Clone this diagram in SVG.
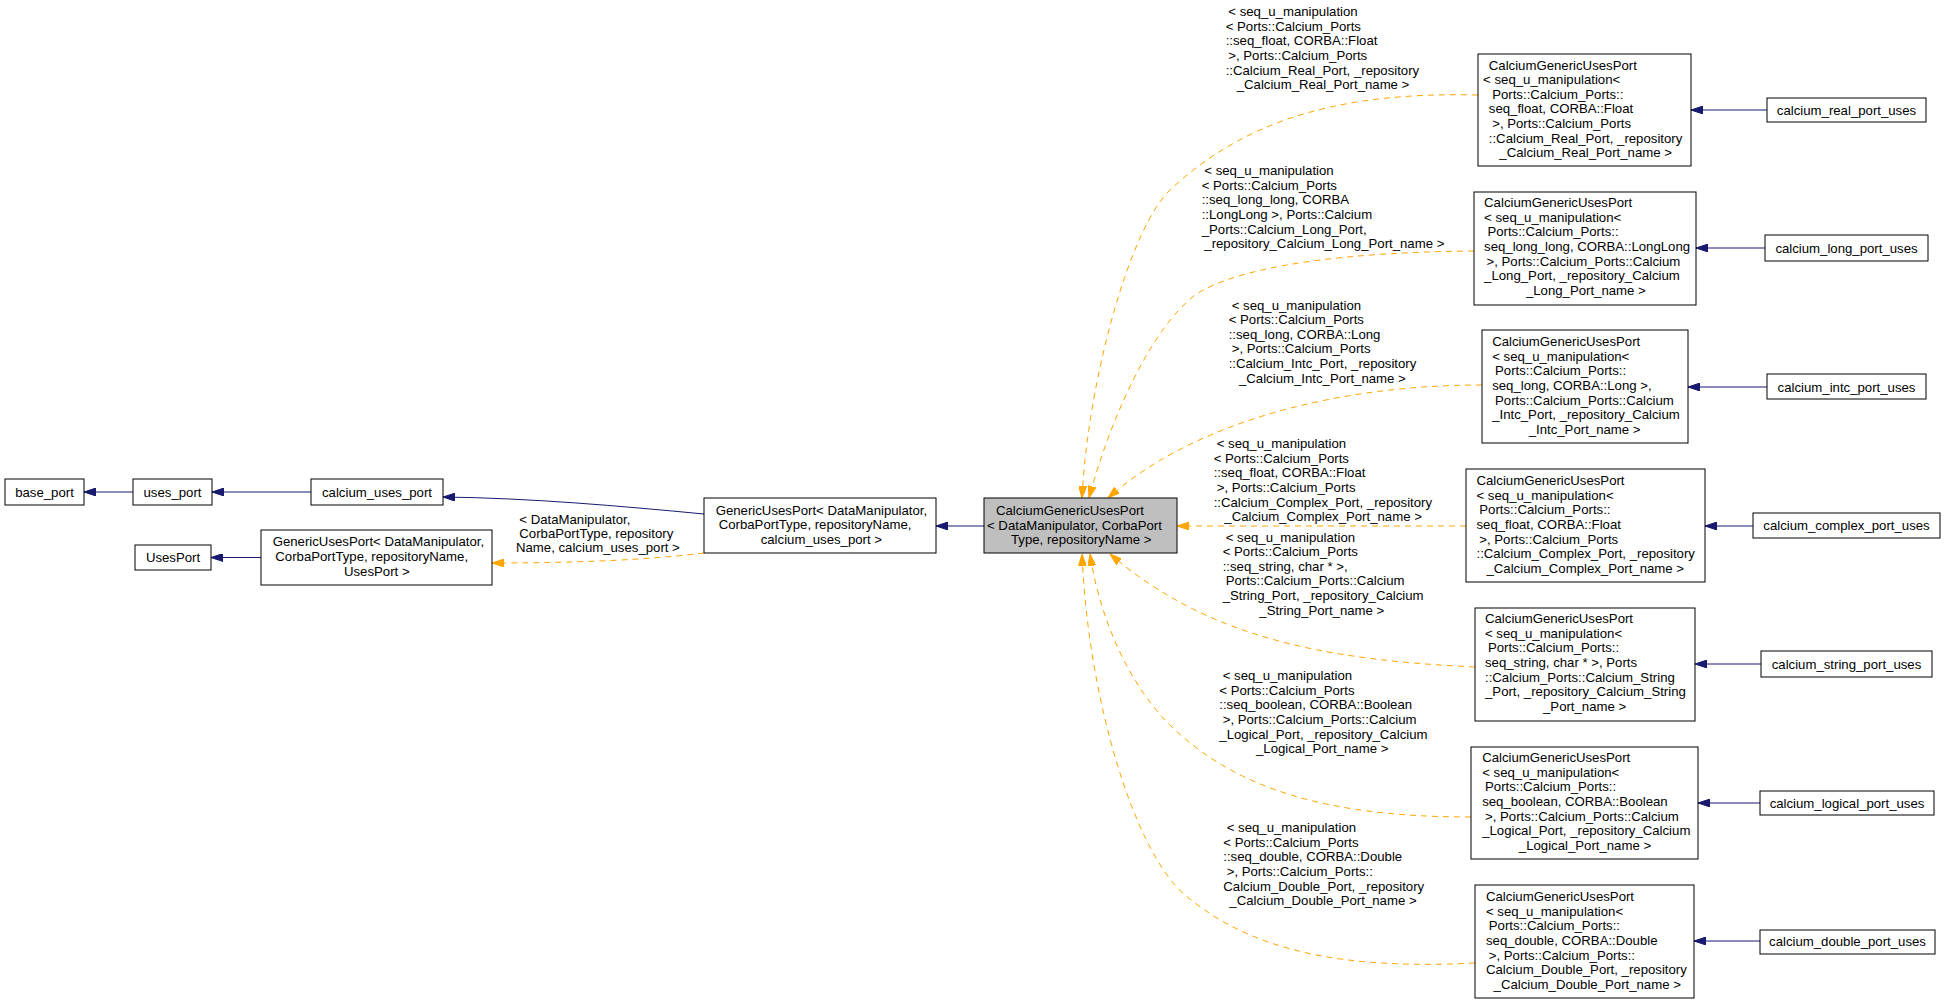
<svg xmlns="http://www.w3.org/2000/svg" width="1945" height="1004" viewBox="0 0 1945 1004">
<style>
.n rect{fill:#fff;stroke:#000;stroke-width:1}
.n rect.g{fill:#bfbfbf}
text{font-family:"Liberation Sans",Arial,Helvetica,sans-serif;font-size:13.2px;fill:#000}
.c{text-anchor:middle}
.e{fill:none;stroke:#191970;stroke-width:1}
.d{fill:none;stroke:#ffa500;stroke-width:1;stroke-dasharray:6,5}
</style>
<defs>
<marker id="ab" viewBox="0 0 12 8" refX="12" refY="4" markerWidth="12" markerHeight="8" markerUnits="userSpaceOnUse" orient="auto"><path d="M0,0L12,4L0,8z" fill="#191970" stroke="#191970"/></marker>
<marker id="ao" viewBox="0 0 12 8" refX="12" refY="4" markerWidth="12" markerHeight="8" markerUnits="userSpaceOnUse" orient="auto"><path d="M0,0L12,4L0,8z" fill="#ffa500" stroke="#ffa500"/></marker>
</defs>
<rect width="1945" height="1004" fill="#fff"/>
<g id="connectors">
<path class="e" marker-end="url(#ab)" d="M133,492L84,492"/>
<path class="e" marker-end="url(#ab)" d="M311,492L212,492"/>
<path class="e" marker-end="url(#ab)" d="M704,514C620,506 530,498 443,497"/>
<path class="e" marker-end="url(#ab)" d="M261,557.5L211,557.5"/>
<path class="e" marker-end="url(#ab)" d="M984,526L936,526"/>
<path class="d" marker-end="url(#ao)" d="M704,553C640,561 560,563 492,563"/>
<path class="d" marker-end="url(#ao)" d="M1478,95C1350,92 1250,115 1170,190C1130,228 1088,380 1082,498"/>
<path class="d" marker-end="url(#ao)" d="M1474,251C1350,252 1240,265 1195,295C1150,330 1110,420 1089,498"/>
<path class="d" marker-end="url(#ao)" d="M1482,385C1330,385 1190,425 1108,498"/>
<path class="d" marker-end="url(#ao)" d="M1466,526L1177,526"/>
<path class="d" marker-end="url(#ao)" d="M1475,667C1330,660 1210,640 1110,554"/>
<path class="d" marker-end="url(#ao)" d="M1471,817C1330,817 1240,790 1175,730C1130,688 1100,620 1090,554"/>
<path class="d" marker-end="url(#ao)" d="M1475,963C1340,970 1250,950 1185,895C1135,853 1088,700 1082,554"/>
<path class="e" marker-end="url(#ab)" d="M1767,110L1691,110"/>
<path class="e" marker-end="url(#ab)" d="M1765,248L1696,248"/>
<path class="e" marker-end="url(#ab)" d="M1767,387L1688,387"/>
<path class="e" marker-end="url(#ab)" d="M1753,526L1705,526"/>
<path class="e" marker-end="url(#ab)" d="M1761,664L1695,664"/>
<path class="e" marker-end="url(#ab)" d="M1760,803L1698,803"/>
<path class="e" marker-end="url(#ab)" d="M1760,941L1694,941"/>
</g>
<g id="edge-labels">
<text><tspan x="519.3" y="523.8">&lt; DataManipulator,</tspan><tspan x="519.3" y="537.8">CorbaPortType, repository</tspan><tspan x="516" y="552.2">Name, calcium_uses_port &gt;</tspan></text>
<text><tspan x="1228.3" y="16.2">&lt; seq_u_manipulation</tspan><tspan x="1225.7" y="30.8">&lt; Ports::Calcium_Ports</tspan><tspan x="1225.7" y="45.4">::seq_float, CORBA::Float</tspan><tspan x="1228.3" y="60">&gt;, Ports::Calcium_Ports</tspan><tspan x="1225.7" y="74.6">::Calcium_Real_Port, _repository</tspan><tspan x="1236.7" y="89.2">_Calcium_Real_Port_name &gt;</tspan></text>
<text><tspan x="1204.3" y="175.2">&lt; seq_u_manipulation</tspan><tspan x="1201.7" y="189.8">&lt; Ports::Calcium_Ports</tspan><tspan x="1201.7" y="204.4">::seq_long_long, CORBA</tspan><tspan x="1201.7" y="219">::LongLong &gt;, Ports::Calcium</tspan><tspan x="1201.7" y="233.6">_Ports::Calcium_Long_Port,</tspan><tspan x="1204.3" y="248.2">_repository_Calcium_Long_Port_name &gt;</tspan></text>
<text><tspan x="1231.7" y="309.5">&lt; seq_u_manipulation</tspan><tspan x="1228.7" y="324.1">&lt; Ports::Calcium_Ports</tspan><tspan x="1228.7" y="338.7">::seq_long, CORBA::Long</tspan><tspan x="1231.7" y="353.3">&gt;, Ports::Calcium_Ports</tspan><tspan x="1228.7" y="367.9">::Calcium_Intc_Port, _repository</tspan><tspan x="1239" y="382.8">_Calcium_Intc_Port_name &gt;</tspan></text>
<text><tspan x="1216.7" y="448.2">&lt; seq_u_manipulation</tspan><tspan x="1213.7" y="462.8">&lt; Ports::Calcium_Ports</tspan><tspan x="1213.7" y="477.4">::seq_float, CORBA::Float</tspan><tspan x="1216.7" y="492">&gt;, Ports::Calcium_Ports</tspan><tspan x="1213.7" y="506.6">::Calcium_Complex_Port, _repository</tspan><tspan x="1224.3" y="521.2">_Calcium_Complex_Port_name &gt;</tspan></text>
<text><tspan x="1225.7" y="541.5">&lt; seq_u_manipulation</tspan><tspan x="1222.7" y="556.1">&lt; Ports::Calcium_Ports</tspan><tspan x="1222.7" y="570.7">::seq_string, char * &gt;,</tspan><tspan x="1225.7" y="585.3">Ports::Calcium_Ports::Calcium</tspan><tspan x="1222.7" y="599.9">_String_Port, _repository_Calcium</tspan><tspan x="1259.3" y="614.8">_String_Port_name &gt;</tspan></text>
<text><tspan x="1222.7" y="680.2">&lt; seq_u_manipulation</tspan><tspan x="1219.3" y="694.8">&lt; Ports::Calcium_Ports</tspan><tspan x="1219.3" y="709.4">::seq_boolean, CORBA::Boolean</tspan><tspan x="1222.7" y="724">&gt;, Ports::Calcium_Ports::Calcium</tspan><tspan x="1219.3" y="738.6">_Logical_Port, _repository_Calcium</tspan><tspan x="1256" y="753.2">_Logical_Port_name &gt;</tspan></text>
<text><tspan x="1226.7" y="832.2">&lt; seq_u_manipulation</tspan><tspan x="1223.3" y="846.8">&lt; Ports::Calcium_Ports</tspan><tspan x="1223.3" y="861.4">::seq_double, CORBA::Double</tspan><tspan x="1226.7" y="876">&gt;, Ports::Calcium_Ports::</tspan><tspan x="1223.3" y="890.6">Calcium_Double_Port, _repository</tspan><tspan x="1229.3" y="905.2">_Calcium_Double_Port_name &gt;</tspan></text>
</g>
<g id="base_port" class="n"><rect x="5" y="479" width="79" height="26"/><text class="c" x="44.5" y="496.5">base_port</text></g>
<g id="uses_port" class="n"><rect x="133" y="479" width="79" height="26"/><text class="c" x="172.5" y="496.5">uses_port</text></g>
<g id="calcium_uses_port" class="n"><rect x="311" y="479" width="132" height="26"/><text class="c" x="377" y="496.5">calcium_uses_port</text></g>
<g id="UsesPort" class="n"><rect x="135" y="545" width="76" height="25"/><text class="c" x="173" y="561.5">UsesPort</text></g>
<g id="GenericUsesPort_UsesPort" class="n"><rect x="261" y="530" width="231" height="55"/><text><tspan x="272.7" y="545.8">GenericUsesPort&lt; DataManipulator,</tspan><tspan x="275.3" y="561.2">CorbaPortType, repositoryName,</tspan><tspan x="344" y="575.5">UsesPort &gt;</tspan></text></g>
<g id="GenericUsesPort_calcium" class="n"><rect x="704" y="498" width="232" height="55"/><text><tspan x="715.7" y="514.5">GenericUsesPort&lt; DataManipulator,</tspan><tspan x="718.7" y="528.8">CorbaPortType, repositoryName,</tspan><tspan x="760.7" y="543.5">calcium_uses_port &gt;</tspan></text></g>
<g id="CalciumGenericUsesPort" class="n"><rect class="g" x="984" y="498" width="193" height="55"/><text><tspan x="996" y="514.5">CalciumGenericUsesPort</tspan><tspan x="987" y="529.5">&lt; DataManipulator, CorbaPort</tspan><tspan x="1011" y="543.5">Type, repositoryName &gt;</tspan></text></g>
<g id="CGUP_Real" class="n"><rect x="1478" y="54" width="213" height="112"/><text><tspan x="1488.8" y="69.5">CalciumGenericUsesPort</tspan><tspan x="1483.1" y="84.1">&lt; seq_u_manipulation&lt;</tspan><tspan x="1492.2" y="98.7">Ports::Calcium_Ports::</tspan><tspan x="1488.8" y="113.3">seq_float, CORBA::Float</tspan><tspan x="1492.2" y="127.9">&gt;, Ports::Calcium_Ports</tspan><tspan x="1488.8" y="142.5">::Calcium_Real_Port, _repository</tspan><tspan x="1499.3" y="157.1">_Calcium_Real_Port_name &gt;</tspan></text></g>
<g id="calcium_real_port_uses" class="n"><rect x="1767" y="98" width="159" height="24"/><text class="c" x="1846.5" y="114.5">calcium_real_port_uses</text></g>
<g id="CGUP_Long" class="n"><rect x="1474" y="192" width="222" height="113"/><text><tspan x="1484.1" y="207.2">CalciumGenericUsesPort</tspan><tspan x="1484.1" y="221.8">&lt; seq_u_manipulation&lt;</tspan><tspan x="1487.4" y="236.4">Ports::Calcium_Ports::</tspan><tspan x="1484.1" y="251">seq_long_long, CORBA::LongLong</tspan><tspan x="1486.5" y="265.6">&gt;, Ports::Calcium_Ports::Calcium</tspan><tspan x="1484.1" y="280.2">_Long_Port, _repository_Calcium</tspan><tspan x="1525.9" y="294.8">_Long_Port_name &gt;</tspan></text></g>
<g id="calcium_long_port_uses" class="n"><rect x="1765" y="235" width="163" height="26"/><text class="c" x="1846.5" y="252.8">calcium_long_port_uses</text></g>
<g id="CGUP_Intc" class="n"><rect x="1482" y="330" width="206" height="113"/><text><tspan x="1492.2" y="346.2">CalciumGenericUsesPort</tspan><tspan x="1492.2" y="360.8">&lt; seq_u_manipulation&lt;</tspan><tspan x="1495" y="375.4">Ports::Calcium_Ports::</tspan><tspan x="1492.2" y="390">seq_long, CORBA::Long &gt;,</tspan><tspan x="1495" y="404.6">Ports::Calcium_Ports::Calcium</tspan><tspan x="1492.2" y="419.2">_Intc_Port, _repository_Calcium</tspan><tspan x="1528.7" y="433.8">_Intc_Port_name &gt;</tspan></text></g>
<g id="calcium_intc_port_uses" class="n"><rect x="1767" y="374" width="159" height="25"/><text class="c" x="1846.5" y="391.8">calcium_intc_port_uses</text></g>
<g id="CGUP_Complex" class="n"><rect x="1466" y="469" width="239" height="113"/><text><tspan x="1476.5" y="485.2">CalciumGenericUsesPort</tspan><tspan x="1476.5" y="499.8">&lt; seq_u_manipulation&lt;</tspan><tspan x="1479.3" y="514.4">Ports::Calcium_Ports::</tspan><tspan x="1476.5" y="529">seq_float, CORBA::Float</tspan><tspan x="1479.3" y="543.6">&gt;, Ports::Calcium_Ports</tspan><tspan x="1476.5" y="558.2">::Calcium_Complex_Port, _repository</tspan><tspan x="1486.5" y="572.8">_Calcium_Complex_Port_name &gt;</tspan></text></g>
<g id="calcium_complex_port_uses" class="n"><rect x="1753" y="513" width="187" height="25"/><text class="c" x="1846.5" y="530.2">calcium_complex_port_uses</text></g>
<g id="CGUP_String" class="n"><rect x="1475" y="608" width="220" height="113"/><text><tspan x="1485" y="623.2">CalciumGenericUsesPort</tspan><tspan x="1485" y="637.8">&lt; seq_u_manipulation&lt;</tspan><tspan x="1487.9" y="652.4">Ports::Calcium_Ports::</tspan><tspan x="1485" y="667">seq_string, char * &gt;, Ports</tspan><tspan x="1485" y="681.6">::Calcium_Ports::Calcium_String</tspan><tspan x="1485" y="696.2">_Port, _repository_Calcium_String</tspan><tspan x="1543" y="710.8">_Port_name &gt;</tspan></text></g>
<g id="calcium_string_port_uses" class="n"><rect x="1761" y="651" width="171" height="26"/><text class="c" x="1846.5" y="668.8">calcium_string_port_uses</text></g>
<g id="CGUP_Logical" class="n"><rect x="1471" y="747" width="227" height="112"/><text><tspan x="1482.2" y="762.2">CalciumGenericUsesPort</tspan><tspan x="1482.2" y="776.8">&lt; seq_u_manipulation&lt;</tspan><tspan x="1485" y="791.4">Ports::Calcium_Ports::</tspan><tspan x="1482.2" y="806">seq_boolean, CORBA::Boolean</tspan><tspan x="1485" y="820.6">&gt;, Ports::Calcium_Ports::Calcium</tspan><tspan x="1482.2" y="835.2">_Logical_Port, _repository_Calcium</tspan><tspan x="1518.8" y="849.8">_Logical_Port_name &gt;</tspan></text></g>
<g id="calcium_logical_port_uses" class="n"><rect x="1760" y="791" width="174" height="24"/><text class="c" x="1847" y="807.8">calcium_logical_port_uses</text></g>
<g id="CGUP_Double" class="n"><rect x="1475" y="885" width="219" height="113"/><text><tspan x="1486" y="901.2">CalciumGenericUsesPort</tspan><tspan x="1486" y="915.8">&lt; seq_u_manipulation&lt;</tspan><tspan x="1488.8" y="930.4">Ports::Calcium_Ports::</tspan><tspan x="1486" y="945">seq_double, CORBA::Double</tspan><tspan x="1488.8" y="959.6">&gt;, Ports::Calcium_Ports::</tspan><tspan x="1486" y="974.2">Calcium_Double_Port, _repository</tspan><tspan x="1493.6" y="988.8">_Calcium_Double_Port_name &gt;</tspan></text></g>
<g id="calcium_double_port_uses" class="n"><rect x="1760" y="930" width="175" height="24"/><text class="c" x="1847.5" y="945.8">calcium_double_port_uses</text></g>
</svg>
